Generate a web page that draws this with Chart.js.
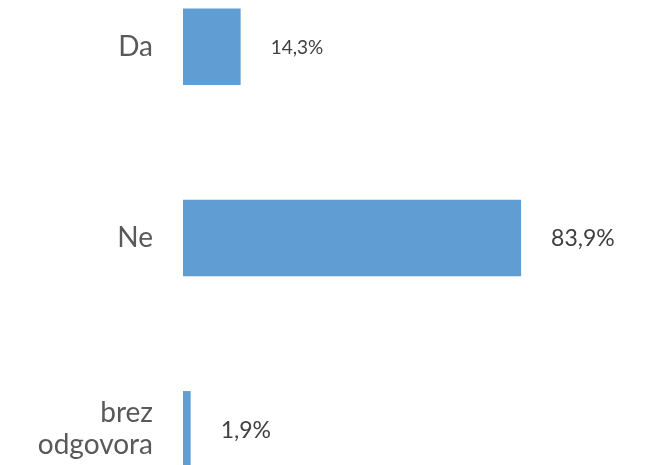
<!DOCTYPE html>
<html>
<head>
<meta charset="utf-8">
<script src="https://cdn.jsdelivr.net/npm/chart.js@4"></script>
<style>
  html, body { margin: 0; padding: 0; background: #fff; }
  #wrap { position: relative; width: 646px; height: 465px; overflow: hidden; }
  #odgovori { position: absolute; left: 0; top: -49px; }
</style>
</head>
<body>
<div id="wrap"><canvas id="odgovori" width="646" height="574"></canvas></div>
<script>
// Podatki
const categories = ["Da", "Ne", ["brez", "odgovora"]];
const values = [14.3, 83.9, 1.9];
const valueLabels = ["14,3%", "83,9%", "1,9%"];

// Izgled
const BAR_COLOR = "#5f9dd3";
const TEXT_COLOR = "#404040";
const FONT = "Lato";
const labelSizes = [19, 23, 23];

// Oznake vrednosti desno od stolpcev
const valueLabelPlugin = {
  id: "valueLabels",
  afterDatasetsDraw(chart) {
    const ctx = chart.ctx;
    const meta = chart.getDatasetMeta(0);
    ctx.save();
    ctx.fillStyle = TEXT_COLOR;
    ctx.textAlign = "left";
    ctx.textBaseline = "middle";
    meta.data.forEach((bar, i) => {
      ctx.font = labelSizes[i] + "px " + FONT;
      ctx.fillText(valueLabels[i], bar.x + 30, bar.y + 1);
    });
    ctx.restore();
  }
};

new Chart(document.getElementById("odgovori"), {
  type: "bar",
  data: {
    labels: categories,
    datasets: [{
      data: values,
      backgroundColor: BAR_COLOR,
      borderWidth: 0,
      categoryPercentage: 1,
      barPercentage: 0.4
    }]
  },
  options: {
    indexAxis: "y",
    responsive: false,
    animation: false,
    layout: { padding: { left: 0, right: 60, top: 0, bottom: 0 } },
    scales: {
      x: { display: false, min: 0, max: 100 },
      y: {
        grid: { display: false, drawTicks: false },
        border: { display: false },
        ticks: {
          color: "#595959",
          padding: 30,
          font: { family: FONT, size: 28, lineHeight: 1.15 }
        },
        afterFit(axis) {
          axis.width = 183;
          axis.paddingTop = 0;
          axis.paddingBottom = 0;
        }
      }
    },
    plugins: {
      legend: { display: false },
      tooltip: { enabled: false }
    }
  },
  plugins: [valueLabelPlugin]
});
</script>
</body>
</html>
